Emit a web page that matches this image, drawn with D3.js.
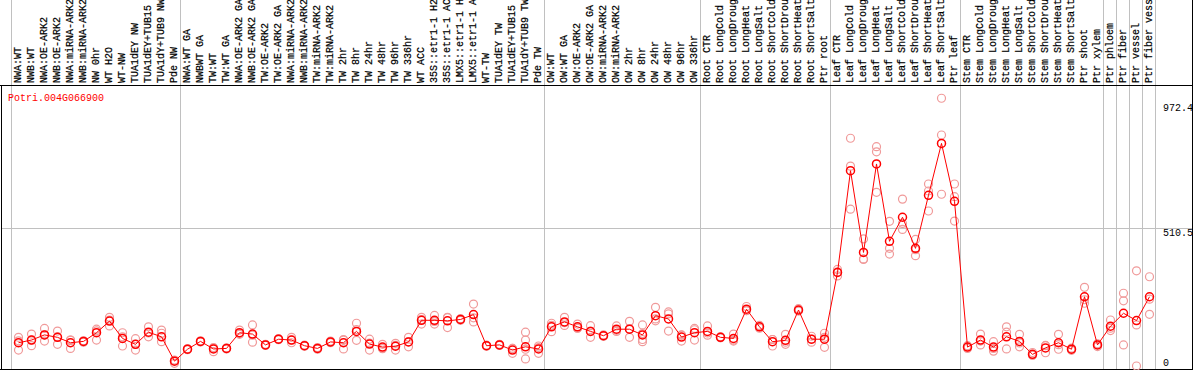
<!DOCTYPE html>
<html>
<head>
<meta charset="utf-8">
<script src="https://cdn.jsdelivr.net/npm/d3@7"></script>
<style>
body { margin: 0; background: #fff; }
svg text { font-family: "Liberation Mono", "DejaVu Sans Mono", monospace; }
</style>
</head>
<body>
<div id="chart"></div>
<script>
var geneId = "Potri.004G066900";

var samples = [
    "NWA:WT", "NWB:WT", "NWA:OE-ARK2", "NWB:OE-ARK2", "NWA:miRNA-ARK2", "NWB:miRNA-ARK2",
    "NW 0hr", "WT H2O", "WT-NW", "TUA1dEY NW", "TUA1dEY+TUB15", "TUA1dY+TUB9 NW", "Pde NW",
    "NWA:WT GA", "NWBWT GA", "TW:WT", "TW:WT GA", "NWA:OE-ARK2 GA", "NWB:OE-ARK2 GA",
    "TW:OE-ARK2", "TW:OE-ARK2 GA", "NWA:miRNA-ARK2", "NWB:miRNA-ARK2", "TW:miRNA-ARK2", "TW:miRNA-ARK2",
    "TW 2hr", "TW 8hr", "TW 24hr", "TW 48hr", "TW 96hr", "TW 336hr", "WT ACC",
    "35S::etr1-1 H2O", "35S::etr1-1 ACC", "LMX5::etr1-1 H2O", "LMX5::etr1-1 ACC", "WT-TW",
    "TUA1dEY TW", "TUA1dEY+TUB15", "TUA1dY+TUB9 TW", "Pde TW",
    "OW:WT", "OW:WT GA", "OW:OE-ARK2", "OW:OE-ARK2 GA", "OW:miRNA-ARK2", "OW:miRNA-ARK2",
    "OW 2hr", "OW 8hr", "OW 24hr", "OW 48hr", "OW 96hr", "OW 336hr",
    "Root CTR", "Root LongCold", "Root LongDrought", "Root LongHeat", "Root LongSalt",
    "Root ShortCold", "Root ShortDrought", "Root ShortHeat", "Root ShortSalt", "Ptr root",
    "Leaf CTR", "Leaf LongCold", "Leaf LongDrought", "Leaf LongHeat", "Leaf LongSalt",
    "Leaf ShortCold", "Leaf ShortDrought", "Leaf ShortHeat", "Leaf ShortSalt", "Ptr leaf",
    "Stem CTR", "Stem LongCold", "Stem LongDrought", "Stem LongHeat", "Stem LongSalt",
    "Stem ShortCold", "Stem ShortDrought", "Stem ShortHeat", "Stem ShortSalt", "Ptr shoot", "Ptr xylem",
    "Ptr phloem", "Ptr fiber", "Ptr vessel", "Ptr fiber vessel"
];

// number of samples in each block between the grey separators
var groupSizes = [13, 28, 12, 10, 10, 11, 1, 1, 1, 1];

var means = [
    86, 96, 115, 106, 86, 91, 123, 166, 102, 80, 125, 108, 18,
    62, 91, 63, 65, 123, 118, 78, 99, 96, 75, 65, 89, 86, 128, 81, 70, 73, 89, 169,
    169, 167, 172, 190, 75, 78, 59, 71, 63,
    145, 163, 145, 128, 112, 136, 136, 115, 186, 174, 107, 123,
    128, 106, 102, 210, 145, 90, 95, 207, 99, 99,
    346, 722, 420, 747, 461, 550, 435, 631, 823, 609,
    70, 96, 70, 108, 91, 43, 67, 86, 62, 256, 78,
    147, 195, 168, 256
];

var replicates = [
    [106, 59, 93], [118, 75, 96], [139, 92, 115], [129, 80, 108], [96, 65, 96], [93, 88, 92],
    [136, 96, 130], [180, 148, 170], [123, 74, 108], [101, 59, 80], [145, 108, 122], [133, 121, 90], [10, 22, 20],
    [60, 64, 62], [93, 89, 91], [53, 66, 68], [67, 63, 65], [133, 120, 117], [152, 88, 114],
    [76, 80, 78], [101, 97, 99], [106, 86, 96], [77, 73, 75], [68, 62, 65], [92, 86, 89],
    [96, 63, 98], [158, 95, 135], [99, 59, 85], [80, 66, 64], [59, 84, 76], [106, 71, 90], [180, 155, 172],
    [187, 155, 165], [180, 142, 179], [175, 169, 172], [229, 163, 178], [77, 73, 75],
    [80, 76, 78], [47, 65, 65], [125, 96, 62, 26], [47, 74, 68],
    [158, 127, 150], [180, 150, 160], [155, 140, 140], [149, 106, 129], [115, 110, 111], [148, 128, 132],
    [165, 106, 137], [152, 98, 90, 120], [217, 167, 174], [200, 129, 193], [114, 92, 115], [139, 96, 134],
    [148, 122, 114], [108, 104, 106], [118, 96, 92], [220, 205, 205], [150, 140, 145],
    [74, 98, 98], [117, 80, 88], [212, 203, 206], [110, 88, 99], [121, 69, 106],
    [357, 333, 348], [842, 739, 580], [470, 396, 394], [811, 792, 642], [535, 435, 414],
    [617, 527, 505], [468, 408, 430], [673, 573, 647], [990, 854, 635], [673, 626, 536],
    [75, 65, 70], [118, 78, 92], [90, 55, 65], [145, 125, 63], [117, 85, 71],
    [50, 40, 40], [75, 76, 49], [117, 79, 62], [66, 62, 58], [291, 245, 232], [72, 82, 80],
    [170, 140, 131], [269, 241, 78], [352, 152, 0], [330, 247, 191]
];

var yTicks = [972.4, 510.5, 0];

var width = 1194,
    height = 370,
    headerBottom = 85.5,
    plotBottom = 369.5;

var svg = d3.select("#chart").append("svg")
    .attr("width", width)
    .attr("height", height);

var x = d3.scaleBand()
    .domain(d3.range(samples.length))
    .range([12, 12 + 13 * samples.length]);

var y = d3.scaleLinear()
    .domain([0, 972.4])
    .range([366, 103]);

function cx(i) { return x(i) + x.bandwidth() / 2; }

// grey line at the middle tick
svg.append("line")
    .attr("x1", 1).attr("x2", 1193)
    .attr("y1", Math.round(y(510.5)) + 0.5).attr("y2", Math.round(y(510.5)) + 0.5)
    .attr("stroke", "#c0c0c0");

// group separators
var bounds = [0];
groupSizes.forEach(function (n) { bounds.push(bounds[bounds.length - 1] + n); });
svg.selectAll(".sep")
    .data(bounds)
    .enter().append("line")
    .attr("class", "sep")
    .attr("x1", function (d) { return Math.round(d < samples.length ? x(d) : x(d - 1) + x.bandwidth()) - 0.5; })
    .attr("x2", function (d) { return Math.round(d < samples.length ? x(d) : x(d - 1) + x.bandwidth()) - 0.5; })
    .attr("y1", 0).attr("y2", plotBottom)
    .attr("stroke", "#c0c0c0");

// frame
svg.append("line").attr("x1", 0).attr("x2", 1193).attr("y1", headerBottom).attr("y2", headerBottom).attr("stroke", "#000");
svg.append("line").attr("x1", 0).attr("x2", 1193).attr("y1", plotBottom).attr("y2", plotBottom).attr("stroke", "#000");
svg.append("line").attr("x1", 1.5).attr("x2", 1.5).attr("y1", headerBottom).attr("y2", plotBottom).attr("stroke", "#000");
svg.append("line").attr("x1", 1192.5).attr("x2", 1192.5).attr("y1", 0).attr("y2", plotBottom).attr("stroke", "#000");

// sample labels
svg.selectAll(".lab")
    .data(samples)
    .enter().append("text")
    .attr("class", "lab")
    .attr("transform", function (d, i) { return "translate(" + (cx(i) + 2.5) + ",83) rotate(-90)"; })
    .attr("font-size", "10px")
    .attr("fill", "#000")
    .attr("stroke", "#000")
    .attr("stroke-width", 0.2)
    .text(function (d) { return d; });

// y tick labels
svg.selectAll(".ytick")
    .data(yTicks)
    .enter().append("text")
    .attr("class", "ytick")
    .attr("x", 1163)
    .attr("y", function (d) { return Math.min(y(d) + 8, 366); })
    .attr("font-size", "10px")
    .attr("fill", "#000")
    .text(function (d) { return d; });

// title
svg.append("text")
    .attr("x", 8)
    .attr("y", 101)
    .attr("font-size", "10px")
    .attr("fill", "#ff0000")
    .text(geneId);

// replicate circles
var repPoints = [];
replicates.forEach(function (r, i) {
    r.forEach(function (v) { repPoints.push({ i: i, v: v }); });
});
svg.selectAll(".rep")
    .data(repPoints)
    .enter().append("circle")
    .attr("class", "rep")
    .attr("cx", function (d) { return cx(d.i); })
    .attr("cy", function (d) { return y(d.v); })
    .attr("r", 4)
    .attr("fill", "none")
    .attr("stroke", "#f09a9a")
    .attr("stroke-width", 1.2);

// mean line
var line = d3.line()
    .x(function (d, i) { return cx(i); })
    .y(function (d) { return y(d); });
svg.append("path")
    .datum(means)
    .attr("d", line)
    .attr("fill", "none")
    .attr("stroke", "#ff0000")
    .attr("stroke-width", 1);

svg.selectAll(".mean")
    .data(means)
    .enter().append("circle")
    .attr("class", "mean")
    .attr("cx", function (d, i) { return cx(i); })
    .attr("cy", function (d) { return y(d); })
    .attr("r", 4)
    .attr("fill", "none")
    .attr("stroke", "#ff0000")
    .attr("stroke-width", 1.5);
</script>
</body>
</html>
